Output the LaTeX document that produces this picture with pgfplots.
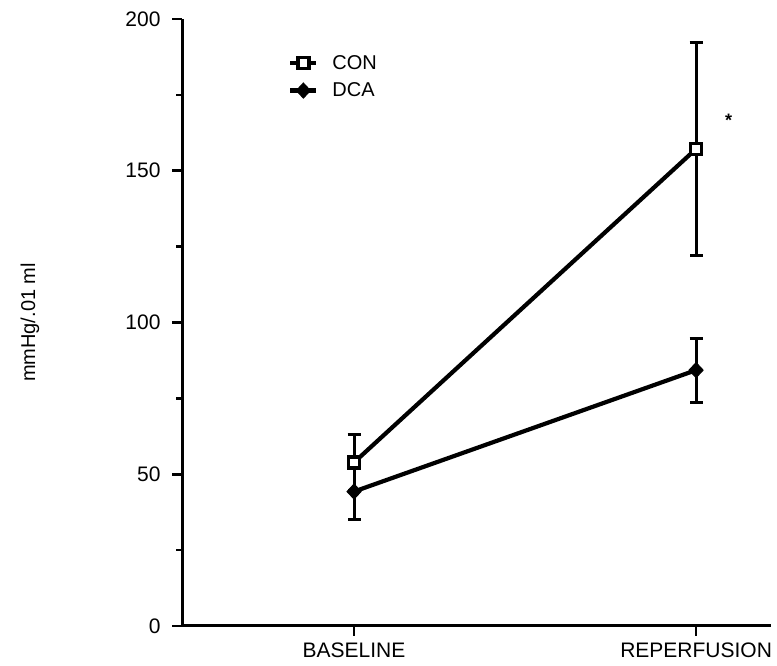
\documentclass[border=0pt]{standalone}
\usepackage{fontspec}
\setmainfont{Liberation Sans}
\usepackage{pgfplots}
\pgfplotsset{compat=1.18}
\begin{document}
\begin{tikzpicture}
\begin{axis}[
  at={(182pt,40pt)}, anchor=south west,
  scale only axis, width=589pt, height=607pt,
  xmin=-0.503, xmax=1.219, ymin=0, ymax=200,
  axis x line*=bottom, axis y line*=left,
  axis line style={line width=3pt},
  xtick={0,1}, xticklabels={BASELINE,REPERFUSION},
  ytick={0,50,100,150,200}, minor ytick={25,75,125,175},
  tick align=outside,
  major tick length=10pt, minor tick length=6pt,
  every tick/.style={black, line width=2.6pt},
  tick label style={font=\fontsize{21}{24}\selectfont},
  yticklabel style={xshift=-8pt},
  xticklabel style={yshift=-3pt},
  /pgf/number format/assume math mode=true,
  ylabel={mmHg/.01 ml},
  ylabel style={at={(axis description cs:-0.258,0.5)}, anchor=center, font=\fontsize{20}{24}\selectfont},
  legend style={at={(axis description cs:0.175,0.947)}, anchor=north west, draw=none, fill=none,
    font=\fontsize{20}{24}\selectfont, row sep=8pt},
  legend cell align=left,
  legend image code/.code={\draw[mark repeat=2,mark phase=2,#1] plot coordinates {(0pt,0pt) (13pt,0pt) (26pt,0pt)};},
  clip=false,
]
\addplot[black, line width=4.2pt, mark=square*, mark size=5.5pt,
  mark options={line width=3.6pt, fill=white, solid},
  error bars/.cd, y dir=both, y explicit,
  error bar style={line width=3pt},
  error mark options={rotate=90, mark size=6.5pt, line width=3pt}]
  coordinates {(0,53.9) +- (0,9.3) (1,157.2) +- (0,35)};
\addlegendentry{\hspace{12pt}CON}
\addplot[black, line width=4.2pt, mark=diamond*, mark size=7.5pt,
  mark options={solid, fill=black, line width=1pt, xscale=1.25},
  error bars/.cd, y dir=both, y explicit,
  error bar style={line width=3pt},
  error mark options={rotate=90, mark size=6.5pt, line width=3pt}]
  coordinates {(0,44.3) +- (0,9.1) (1,84.3) +- (0,10.5)};
\addlegendentry{\hspace{12pt}DCA}
\node at (axis cs:1.095,166.5) {\fontsize{18}{18}\selectfont\bfseries *};
\end{axis}
\pgfresetboundingbox
\path[use as bounding box] (0,0) rectangle (777pt,666pt);
\end{tikzpicture}
\end{document}
